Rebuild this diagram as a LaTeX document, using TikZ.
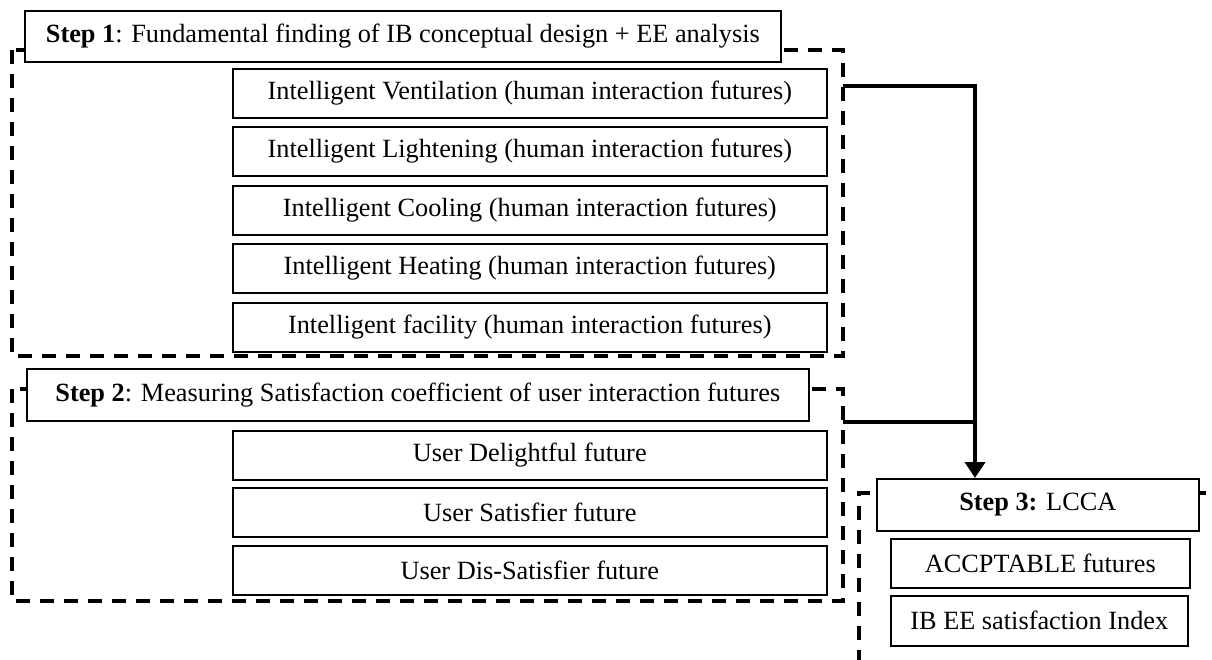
\documentclass[tikz,border=0pt]{standalone}
\usepackage{fontspec}
\setmainfont{Liberation Serif}
\usetikzlibrary{arrows.meta}
\begin{document}
\begin{tikzpicture}[x=1pt,y=-1pt,
  box/.style={draw=black,line width=1.6pt,fill=white,anchor=north west,inner sep=0pt,font=\fontsize{26.3}{30}\selectfont},
  group/.style={draw=black,line width=3.6pt,dash pattern=on 14pt off 10pt},
  link/.style={draw=black,line width=4.5pt},
  arr/.style={link,-{Triangle[length=16pt,width=20pt]}}]
\useasboundingbox (0,0) rectangle (1212,659);
% dashed groups
\draw[group] (12,50) rectangle (843,356);
\draw[group] (12,389) rectangle (843,601);
\draw[group] (1230,493) -- (859,493) -- (859,680);
% step 1
\node[box,minimum width=756pt,minimum height=51pt] (s1) at (24,10) {\textbf{Step 1}: Fundamental finding of IB conceptual design + EE analysis};
\node[box,minimum width=594pt,minimum height=49pt] (a1) at (232,68) {Intelligent Ventilation (human interaction futures)};
\node[box,minimum width=594pt,minimum height=49pt] (a2) at (232,126) {Intelligent Lightening (human interaction futures)};
\node[box,minimum width=594pt,minimum height=49pt] (a3) at (232,185) {Intelligent Cooling (human interaction futures)};
\node[box,minimum width=594pt,minimum height=49pt] (a4) at (232,243) {Intelligent Heating (human interaction futures)};
\node[box,minimum width=594pt,minimum height=49pt] (a5) at (232,302) {Intelligent facility (human interaction futures)};
% step 2
\node[box,minimum width=782pt,minimum height=52pt] (s2) at (26,368) {\textbf{Step 2}: Measuring Satisfaction coefficient of user interaction futures};
\node[box,minimum width=594pt,minimum height=49pt] (b1) at (232,430) {User Delightful future};
\node[box,minimum width=594pt,minimum height=49pt] (b2) at (232,487) {User Satisfier future};
\node[box,minimum width=594pt,minimum height=49pt] (b3) at (232,545) {User Dis-Satisfier future};
% step 3
\node[box,minimum width=322pt,minimum height=52pt] (s3) at (876,478) {\textbf{Step 3:} LCCA};
\node[box,minimum width=299pt,minimum height=49pt] (c1) at (890,538) {ACCPTABLE futures};
\node[box,minimum width=297pt,minimum height=50pt] (c2) at (890,595) {IB EE satisfaction Index};
% connectors
\coordinate (j1) at (843,86);
\coordinate (j2) at (843,422);
\coordinate (k) at (975,86);
\draw[arr] (j1) -- (k) -- (k |- s3.north);
\draw[link] (j2) -- (j2 -| k);
\end{tikzpicture}
\end{document}
